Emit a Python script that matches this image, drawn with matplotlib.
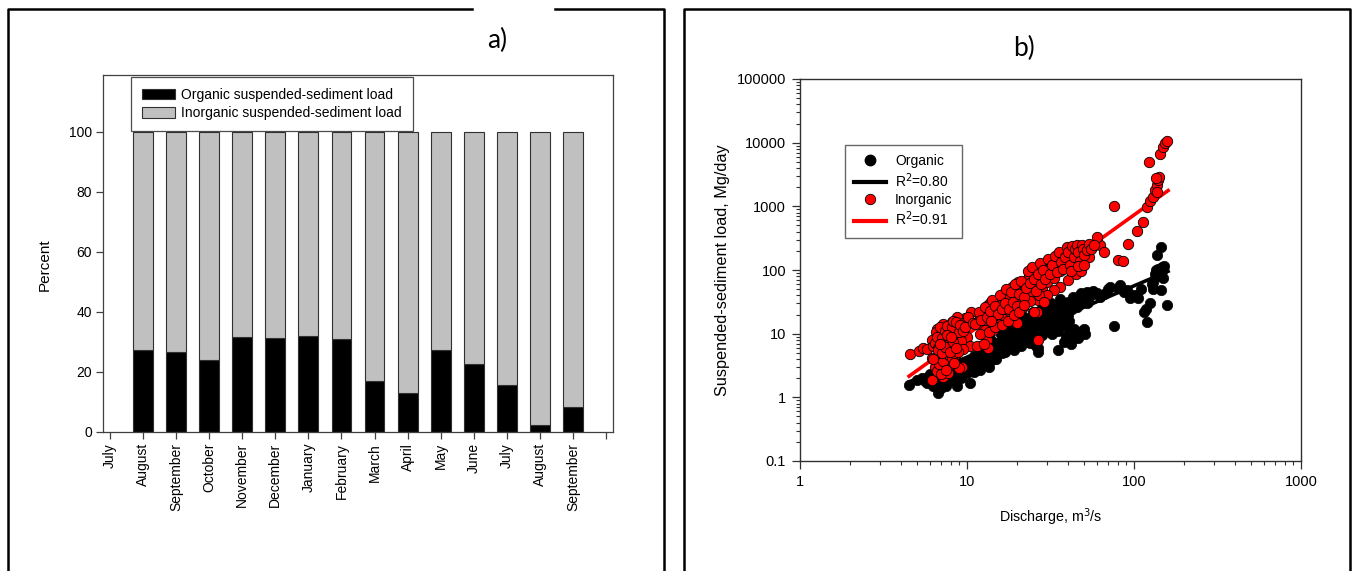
import numpy as np
import matplotlib
matplotlib.use('Agg')
import matplotlib.pyplot as plt
from matplotlib.lines import Line2D
from matplotlib.patches import Patch
from matplotlib.ticker import FixedLocator, FuncFormatter, NullFormatter

plt.rcParams['font.family'] = ['Liberation Sans', 'DejaVu Sans']

W, H = 1357, 571

# ---------------- panel a data ----------------
months = ['July', 'August', 'September', 'October', 'November', 'December',
          'January', 'February', 'March', 'April', 'May', 'June', 'July',
          'August', 'September']
organic_pct = [np.nan, 27.3, 26.6, 23.9, 31.7, 31.3, 32.0, 31.0, 17.0, 13.0,
               27.1, 22.7, 15.5, 2.4, 8.1]
inorganic_pct = [np.nan, 72.7, 73.4, 76.1, 68.3, 68.7, 68.0, 69.0, 83.0, 87.0,
                 72.9, 77.3, 84.5, 97.6, 91.9]
pct_ticks = [0, 20, 40, 60, 80, 100]

# ---------------- panel b data ----------------
org_q = [4.5, 5.0, 5.4, 5.8, 6.0, 6.3, 6.5, 6.7, 6.8, 6.9,
         7.0, 7.2, 7.3, 7.5, 7.7, 7.9, 8.1, 8.4, 8.7, 8.9,
         9.2, 9.5, 10.0, 10.4, 10.3, 10.9, 11.4, 11.8, 12.0, 12.5,
         12.8, 13.1, 13.6, 14.0, 14.5, 15.1, 15.5, 16.0, 16.5, 17.3,
         17.8, 18.4, 19.0, 19.8, 20.5, 21.2, 22.0, 22.8, 23.3, 23.8,
         24.5, 25.5, 26.0, 26.7, 26.7, 26.6, 27.5, 28.5, 29.5, 30.5,
         31.5, 32.5, 33.5, 35.0, 35.5, 36.5, 38.0, 39.0, 40.0, 41.0,
         42.0, 43.0, 44.0, 45.5, 46.5, 48.0, 49.0, 50.0, 51.0, 52.0,
         53.0, 55.0, 57.0, 60.0, 63.0, 66.0, 70.0, 72.0, 76.0, 80.0,
         82.7, 87.0, 90.5, 95.0, 106.0, 114.0, 118.0, 120.0, 125.0, 128.0,
         133.0, 136.0, 137.0, 140.0, 142.0, 144.5, 147.0, 150.0, 157.0, 145.0,
         130.0, 9.0, 11.0, 13.0, 16.0, 18.0, 20.0, 22.0, 25.0, 28.0,
         32.0, 36.0, 14.0, 12.0, 12.2, 13.5, 15.0, 17.0, 19.0, 21.0,
         24.0, 26.0,
         5.6, 6.1, 6.4, 6.6, 7.0, 7.4, 7.8, 8.2, 8.6, 9.0,
         9.4, 9.8, 10.2, 10.6, 11.0, 11.6, 12.4, 13.0, 13.8, 14.6,
         15.4, 16.2, 17.0, 17.8, 18.6, 19.4, 20.2, 21.0, 21.8, 22.6,
         23.4, 24.2, 25.0, 26.0, 27.0, 28.0, 29.0, 30.0, 31.0, 32.0,
         33.0, 34.0, 35.0, 36.0, 37.0, 38.0, 39.0, 40.0, 41.0, 42.5,
         44.0, 45.0, 46.0, 47.5, 48.5, 50.0, 52.0, 38.0, 42.0, 46.0,
         100.0, 110.0, 130.0, 138.0, 148.0, 152.0]
org_load = [1.58, 1.9, 2.0, 1.7, 2.3, 1.5, 1.9, 1.16, 1.35, 1.6,
            2.0, 1.77, 2.4, 1.5, 2.1, 1.8, 2.6, 2.2, 1.48, 2.9,
            2.0, 2.6, 2.4, 1.67, 3.1, 3.05, 3.65, 2.9, 2.7, 3.5,
            4.2, 4.9, 3.6, 5.5, 4.5, 7.1, 5.8, 6.5, 8.8, 8.0,
            6.2, 9.5, 7.4, 10.2, 12.0, 8.6, 14.0, 10.5, 9.0, 11.5,
            16.0, 7.6, 13.0, 9.0, 5.9, 5.2, 18.0, 12.5, 20.0, 15.0,
            24.0, 10.0, 18.5, 5.6, 28.0, 13.0, 22.0, 9.0, 32.0, 16.0,
            8.0, 38.0, 12.0, 26.0, 9.5, 44.0, 11.0, 12.0, 10.0, 45.0,
            32.0, 40.0, 46.0, 43.0, 38.0, 42.0, 50.0, 55.0, 13.2, 52.0,
            58.0, 45.0, 48.8, 36.0, 36.0, 22.0, 24.0, 15.0, 30.0, 60.0,
            85.0, 100.0, 173.0, 105.0, 80.0, 228.0, 110.0, 75.0, 28.0, 48.0,
            50.0, 3.3, 4.5, 6.0, 10.0, 12.0, 15.0, 18.0, 22.0, 25.0,
            30.0, 35.0, 8.0, 6.5, 3.2, 3.0, 4.0, 5.2, 5.5, 6.5,
            7.2, 6.4,
            1.8, 2.0, 1.7, 2.2, 1.4, 1.9, 2.6, 2.0, 2.9, 2.4,
            3.0, 3.6, 2.8, 3.5, 2.5, 3.4, 4.6, 3.9, 5.0, 4.0,
            6.0, 5.0, 7.0, 8.6, 6.8, 9.0, 8.0, 10.5, 12.5, 8.0,
            13.5, 10.8, 12.0, 16.5, 14.0, 9.5, 17.0, 12.0, 20.0, 13.5,
            16.0, 22.0, 11.0, 18.0, 26.0, 14.0, 30.0, 20.0, 10.5, 24.0,
            34.0, 9.0, 28.0, 40.0, 10.5, 36.0, 30.0, 7.5, 6.8, 8.5,
            40.0, 50.0, 65.0, 90.0, 95.0, 115.0]

inorg_q = [4.56, 5.18, 5.48, 5.78, 6.15, 6.13, 6.58, 6.5, 6.96, 6.28,
           6.73, 6.89, 7.21, 7.38, 7.21, 7.73, 6.6, 6.8, 7.0, 7.1,
           7.4, 7.5, 7.6, 7.8, 8.0, 7.0, 6.9, 7.3, 7.91, 8.28,
           8.68, 9.3, 9.73, 10.5, 9.08, 9.96, 10.4, 11.5, 9.3, 8.68,
           7.73, 7.21, 8.1, 8.68, 8.9, 11.97, 12.25, 12.8, 13.1, 13.4,
           13.4, 14.1, 15.1, 16.5, 17.3, 19.0, 20.3, 22.8, 25.0, 26.1,
           23.8, 21.7, 19.8, 18.1, 16.1, 15.1, 14.4, 26.1, 26.5, 25.3,
           26.6, 7.0, 7.5, 7.8, 8.2, 8.5, 8.8, 9.0, 9.5, 10.0,
           9.2, 8.3, 7.6, 8.0, 8.5, 9.5, 12.5, 13.0, 13.8, 14.5,
           15.5, 16.0, 16.8, 17.5, 18.0, 18.5, 19.5, 20.0, 20.8, 21.5,
           22.0, 23.0, 23.5, 24.0, 25.0, 26.0, 27.0, 27.5, 28.0, 29.0,
           29.5, 30.0, 31.0, 31.5, 32.0, 33.0, 34.0, 35.0, 35.5, 36.0,
           37.0, 38.0, 38.5, 39.0, 40.0, 41.0, 42.0, 43.0, 44.0, 45.0,
           46.0, 47.0, 48.0, 49.0, 50.0, 51.0, 52.0, 54.0, 56.0, 60.0,
           62.7, 66.5, 80.3, 85.8, 92.5, 60.3, 76.0, 104.6, 112.6, 119.0,
           125.0, 130.0, 133.0, 137.0, 140.0, 142.0, 135.0, 138.0, 122.5, 143.0,
           150.0, 153.0, 158.0, 36.0, 40.0, 45.0, 48.0, 33.0, 30.0, 21.0,
           24.0, 27.0, 29.0,
           6.2, 6.4, 6.6, 6.7, 6.9, 7.1, 7.2, 7.4, 7.6, 7.7,
           7.9, 8.1, 8.3, 8.6, 8.9, 9.1, 9.4, 9.7, 10.2, 10.8,
           6.4, 6.6, 6.8, 7.0, 7.2, 7.5, 7.8, 8.1, 8.4, 8.8,
           6.7, 7.1, 7.4, 7.9, 8.2, 6.3, 6.9, 7.6, 8.0, 8.6,
           11.2, 11.8, 12.2, 12.8, 13.2, 13.8, 14.2, 14.8, 15.3, 15.8,
           16.3, 16.8, 17.2, 17.8, 18.3, 18.8, 19.3, 19.8, 20.5, 21.2,
           21.8, 22.5, 23.2, 23.8, 24.5, 25.2, 25.8, 26.5, 27.2, 27.8,
           28.5, 29.2, 30.5, 31.2, 32.5, 33.5, 34.5, 35.8, 36.5, 37.5,
           38.8, 39.5, 40.5, 41.5, 42.5, 43.5, 44.5, 45.5, 46.5, 47.5,
           48.5, 49.5, 50.5, 52.5, 53.5, 55.0, 57.5, 42.0, 46.0, 50.0,
           12.0, 13.5, 14.8, 16.2, 17.6, 19.0, 20.5, 22.0, 12.6, 14.0]
inorg_load = [4.77, 5.4, 5.9, 5.7, 8.0, 1.89, 11.8, 10.5, 9.5, 6.3,
              4.4, 3.4, 3.05, 2.54, 2.12, 2.4, 3.8, 4.9, 3.9, 4.6,
              3.5, 5.3, 4.2, 3.2, 3.8, 2.8, 5.5, 6.4, 6.7, 8.5,
              12.9, 16.5, 17.5, 22.2, 9.0, 9.0, 6.4, 6.4, 2.98, 11.0,
              12.2, 14.3, 15.5, 18.5, 2.9, 17.5, 13.7, 11.5, 8.0, 5.9,
              28.3, 23.7, 25.1, 36.1, 40.7, 51.7, 65.8, 70.0, 89.0, 107.0,
              38.3, 26.7, 14.6, 18.5, 17.5, 14.6, 11.5, 22.2, 8.0, 22.0,
              34.0, 7.5, 9.0, 10.5, 11.8, 10.0, 14.0, 12.0, 14.5, 15.5,
              7.8, 6.8, 7.6, 5.6, 4.7, 5.8, 20.0, 24.0, 30.0, 19.0,
              32.0, 28.0, 45.0, 30.0, 38.0, 55.0, 44.0, 35.0, 58.0, 48.0,
              60.0, 55.0, 80.0, 45.0, 65.0, 58.0, 95.0, 75.0, 50.0, 120.0,
              85.0, 65.0, 105.0, 140.0, 90.0, 75.0, 125.0, 110.0, 160.0, 95.0,
              145.0, 180.0, 120.0, 200.0, 150.0, 175.0, 215.0, 130.0, 190.0, 220.0,
              170.0, 235.0, 200.0, 150.0, 225.0, 180.0, 240.0, 160.0, 230.0, 278.0,
              248.0, 194.0, 144.0, 139.0, 254.0, 327.0, 1014.0, 411.0, 575.0, 988.0,
              1230.0, 1418.0, 1806.0, 2168.0, 2596.0, 2926.0, 2800.0, 1700.0, 4920.0, 6650.0,
              8650.0, 9780.0, 10650.0, 55.0, 70.0, 85.0, 95.0, 48.0, 40.0, 30.0,
              33.0, 40.0, 32.0,
              4.2, 7.2, 9.0, 6.0, 12.5, 8.4, 5.0, 11.0, 13.2, 8.8,
              9.8, 12.8, 16.0, 15.0, 10.8, 13.6, 11.2, 12.6, 18.0, 14.8,
              3.0, 2.6, 3.3, 2.3, 3.7, 2.7, 4.6, 4.1, 3.5, 5.2,
              5.6, 5.0, 6.2, 5.2, 7.4, 4.0, 7.0, 9.5, 8.9, 6.0,
              14.0, 22.0, 16.5, 26.0, 18.0, 22.5, 34.0, 27.0, 20.5, 40.0,
              24.0, 30.0, 50.0, 24.5, 45.0, 32.0, 60.0, 27.0, 42.0, 68.0,
              38.0, 52.0, 95.0, 62.0, 110.0, 72.0, 46.0, 85.0, 130.0, 60.0,
              100.0, 72.0, 150.0, 85.0, 118.0, 165.0, 92.0, 190.0, 135.0, 105.0,
              160.0, 230.0, 190.0, 120.0, 240.0, 160.0, 210.0, 250.0, 195.0, 140.0,
              245.0, 210.0, 175.0, 205.0, 255.0, 215.0, 245.0, 95.0, 115.0, 120.0,
              9.8, 10.5, 12.5, 13.5, 16.0, 19.5, 22.0, 28.0, 7.0, 16.0]

# log10(load) = a + b*log10(Q)
org_fit = (-0.489, 1.12)
inorg_fit = (-0.896, 1.88)
fit_q_range = (4.5, 160.0)
org_r2 = '0.80'
inorg_r2 = '0.91'

# ---------------- figure ----------------
fig = plt.figure(figsize=(W / 100, H / 100), dpi=100)


def fx(px):
    return px / W


def fy(py):
    return 1 - py / H


def fline(xs, ys, lw=1.8):
    fig.add_artist(Line2D([fx(x) for x in xs], [fy(y) for y in ys],
                          transform=fig.transFigure, color='black', lw=lw,
                          solid_capstyle='projecting'))


# outer frames
fline([8, 8, 472], [600, 9, 9])
fline([555, 664, 664], [9, 9, 600])
fline([684, 684, 1350, 1350], [600, 9, 9, 600])

# ---------------- panel a ----------------
ax1 = fig.add_axes([fx(103.3), fy(431.7), (612.7 - 103.3) / W, (431.7 - 75) / H])
xpos = np.arange(len(months))
org = np.array(organic_pct)
ino = np.array(inorganic_pct)
ax1.bar(xpos, org, width=0.6, color='black', edgecolor='#303030', lw=0.8, zorder=2)
ax1.bar(xpos, ino, bottom=org, width=0.6, color='#c0c0c0', edgecolor='#303030',
        lw=0.8, zorder=2)
ax1.set_xlim(-0.2, len(months) + 0.2)
ax1.set_ylim(0, 119)
ax1.set_yticks(pct_ticks)
ax1.set_xticks(list(xpos) + [len(months)])
ax1.set_xticklabels(months + [''], rotation=90, fontsize=10)
ax1.tick_params(axis='both', direction='out', length=5, width=0.9, color='#404040',
                labelsize=10, pad=3)
for s in ax1.spines.values():
    s.set_color('#404040')
    s.set_linewidth(0.9)
fig.text(fx(45), fy(265), 'Percent', rotation=90, ha='center', va='center', fontsize=11)
fig.text(fx(497), fy(40), 'a)', ha='center', va='center', fontsize=19,
         family=['Lato', 'DejaVu Sans'])

leg_a = ax1.legend(handles=[Patch(facecolor='black', edgecolor='#303030', lw=0.8,
                                  label='Organic suspended-sediment load'),
                            Patch(facecolor='#c0c0c0', edgecolor='#303030', lw=0.8,
                                  label='Inorganic suspended-sediment load')],
                   loc='upper left', bbox_to_anchor=(0.054, 0.995), borderaxespad=0,
                   fontsize=10, frameon=True, fancybox=False, handlelength=2.4,
                   handleheight=0.8, labelspacing=0.3, borderpad=0.8, handletextpad=0.4)
leg_a.get_frame().set_edgecolor('#202020')
leg_a.get_frame().set_linewidth(0.9)
leg_a.set_zorder(5)

# ---------------- panel b ----------------
ax2 = fig.add_axes([fx(800), fy(461), (1301 - 800) / W, (461 - 79) / H])
ax2.set_xscale('log')
ax2.set_yscale('log')
ax2.set_xlim(1, 1000)
ax2.set_ylim(0.1, 100000)

ax2.scatter(org_q, org_load, s=56, c='black', edgecolors='black', linewidths=0.5, zorder=2)
qq = np.logspace(np.log10(fit_q_range[0]), np.log10(fit_q_range[1]), 50)
ax2.plot(qq, 10 ** (org_fit[0] + org_fit[1] * np.log10(qq)), color='black', lw=2.6, zorder=3)
ax2.plot(qq, 10 ** (inorg_fit[0] + inorg_fit[1] * np.log10(qq)), color='#ff0000', lw=2.6, zorder=4)
ax2.scatter(inorg_q, inorg_load, s=56, c='#ff0000', edgecolors='black', linewidths=0.6, zorder=5)

fmt = FuncFormatter(lambda v, p: ('%g' % v) if v < 1 else '%d' % round(v))
ax2.xaxis.set_major_locator(FixedLocator([1, 10, 100, 1000]))
ax2.yaxis.set_major_locator(FixedLocator([0.1, 1, 10, 100, 1000, 10000, 100000]))
ax2.xaxis.set_major_formatter(fmt)
ax2.yaxis.set_major_formatter(fmt)
xminor = [m * 10 ** e for e in range(0, 3) for m in range(2, 10)]
yminor = [m * 10.0 ** e for e in range(-1, 5) for m in range(2, 10)]
ax2.xaxis.set_minor_locator(FixedLocator(xminor))
ax2.yaxis.set_minor_locator(FixedLocator(yminor))
ax2.xaxis.set_minor_formatter(NullFormatter())
ax2.yaxis.set_minor_formatter(NullFormatter())
ax2.tick_params(which='major', direction='out', length=6, width=0.9, color='#303030',
                labelsize=10.5, pad=4)
ax2.tick_params(which='minor', direction='out', length=3, width=0.8, color='#303030')
for s in ax2.spines.values():
    s.set_color('#303030')
    s.set_linewidth(1.0)

fig.text(fx(722), fy(270), 'Suspended-sediment load, Mg/day', rotation=90,
         ha='center', va='center', fontsize=11.7)
fig.text(fx(1051), fy(517), 'Discharge, m$^3$/s', ha='center', va='center', fontsize=10.3)
fig.text(fx(1024), fy(48), 'b)', ha='center', va='center', fontsize=19,
         family=['Lato', 'DejaVu Sans'])

handles_b = [Line2D([], [], ls='none', marker='o', ms=7.5, mfc='black', mec='black'),
             Line2D([], [], color='black', lw=3),
             Line2D([], [], ls='none', marker='o', ms=7.5, mfc='#ff0000', mec='black', mew=0.6),
             Line2D([], [], color='#ff0000', lw=3)]
labels_b = ['Organic', 'R$^2$=' + org_r2, 'Inorganic', 'R$^2$=' + inorg_r2]
leg_b = ax2.legend(handles_b, labels_b, loc='upper left', bbox_to_anchor=(0.09, 0.827),
                   borderaxespad=0, fontsize=10, frameon=True, fancybox=False,
                   handlelength=2.3, labelspacing=0.22, borderpad=0.65,
                   handletextpad=0.65)
leg_b.get_frame().set_edgecolor('#404040')
leg_b.get_frame().set_linewidth(1.0)

fig.savefig('out.png', dpi=100)
